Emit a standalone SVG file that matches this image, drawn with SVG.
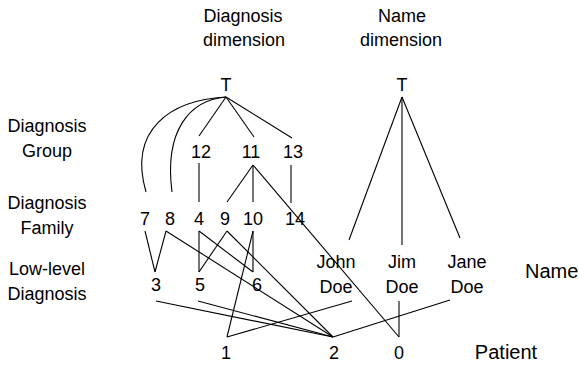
<svg xmlns="http://www.w3.org/2000/svg" width="579" height="366" viewBox="0 0 579 366">
  <style>
    text { font-family: "Liberation Sans", Arial, sans-serif; font-size: 18px; fill: #000; text-anchor: middle; }
    text.big { font-size: 20px; }
    .edge { stroke: #000; stroke-width: 1.1; fill: none; }
  </style>
  <rect width="579" height="366" fill="#fff"/>

  <!-- connectors -->
  <g id="connectors">
    <!-- diagnosis hierarchy -->
    <path class="edge" d="M226,97 C170,100 128,130 146,192"/>
    <path class="edge" d="M226,97 C190,100 164,130 172,192"/>
    <line class="edge" x1="226" y1="97" x2="199" y2="136"/>
    <line class="edge" x1="226" y1="97" x2="254" y2="137"/>
    <line class="edge" x1="226" y1="97" x2="292" y2="138"/>
    <line class="edge" x1="199" y1="163" x2="199" y2="202"/>
    <line class="edge" x1="253" y1="165" x2="227" y2="202"/>
    <line class="edge" x1="253" y1="165" x2="253" y2="202"/>
    <line class="edge" x1="253" y1="165" x2="399" y2="337"/>
    <line class="edge" x1="291" y1="165" x2="291" y2="203"/>
    <line class="edge" x1="145" y1="231" x2="155" y2="272"/>
    <line class="edge" x1="166" y1="231" x2="155" y2="272"/>
    <line class="edge" x1="166" y1="231" x2="333" y2="337"/>
    <line class="edge" x1="199" y1="231" x2="199" y2="272"/>
    <line class="edge" x1="199" y1="231" x2="253" y2="272"/>
    <line class="edge" x1="227" y1="231" x2="199" y2="272"/>
    <line class="edge" x1="227" y1="231" x2="333" y2="337"/>
    <line class="edge" x1="253" y1="231" x2="253" y2="272"/>
    <line class="edge" x1="253" y1="231" x2="227" y2="337"/>
    <line class="edge" x1="156" y1="301" x2="333" y2="337"/>
    <line class="edge" x1="198" y1="301" x2="333" y2="337"/>
    <!-- name hierarchy -->
    <line class="edge" x1="402" y1="97" x2="349" y2="240"/>
    <line class="edge" x1="402" y1="97" x2="402" y2="245"/>
    <line class="edge" x1="402" y1="97" x2="460" y2="238"/>
    <!-- facts -->
    <line class="edge" x1="227" y1="337" x2="352" y2="301"/>
    <line class="edge" x1="333" y1="337" x2="450" y2="300"/>
    <line class="edge" x1="399" y1="301" x2="399" y2="337"/>
  </g>

  <!-- dimension headings and level labels -->
  <g id="labels">
    <text x="243" y="22">Diagnosis</text>
    <text x="244" y="46">dimension</text>
    <text x="402" y="22">Name</text>
    <text x="401" y="46">dimension</text>
    <text x="47" y="132">Diagnosis</text>
    <text x="47" y="157">Group</text>
    <text x="47" y="209">Diagnosis</text>
    <text x="47" y="234">Family</text>
    <text x="47" y="275">Low-level</text>
    <text x="47" y="300">Diagnosis</text>
    <text class="big" x="525" y="278" style="text-anchor:start">Name</text>
    <text class="big" x="506" y="359">Patient</text>
  </g>

  <!-- diagnosis nodes -->
  <g id="diag-T"><text x="226" y="91">T</text></g>
  <g id="diag-12"><text x="201" y="158">12</text></g>
  <g id="diag-11"><text x="251" y="158">11</text></g>
  <g id="diag-13"><text x="293" y="158">13</text></g>
  <g id="diag-7"><text x="145" y="225">7</text></g>
  <g id="diag-8"><text x="170" y="225">8</text></g>
  <g id="diag-4"><text x="199" y="225">4</text></g>
  <g id="diag-9"><text x="225" y="225">9</text></g>
  <g id="diag-10"><text x="253" y="225">10</text></g>
  <g id="diag-14"><text x="295" y="225">14</text></g>
  <g id="diag-3"><text x="156" y="291">3</text></g>
  <g id="diag-5"><text x="200" y="291">5</text></g>
  <g id="diag-6"><text x="257" y="291">6</text></g>

  <!-- name nodes -->
  <g id="name-T"><text x="402" y="91">T</text></g>
  <g id="name-john"><text x="336" y="268">John</text><text x="336" y="293">Doe</text></g>
  <g id="name-jim"><text x="402" y="268">Jim</text><text x="402" y="293">Doe</text></g>
  <g id="name-jane"><text x="467" y="268">Jane</text><text x="467" y="293">Doe</text></g>

  <!-- patient nodes -->
  <g id="patient-1"><text x="226" y="359">1</text></g>
  <g id="patient-2"><text x="334" y="359">2</text></g>
  <g id="patient-0"><text x="399" y="359">0</text></g>
</svg>
